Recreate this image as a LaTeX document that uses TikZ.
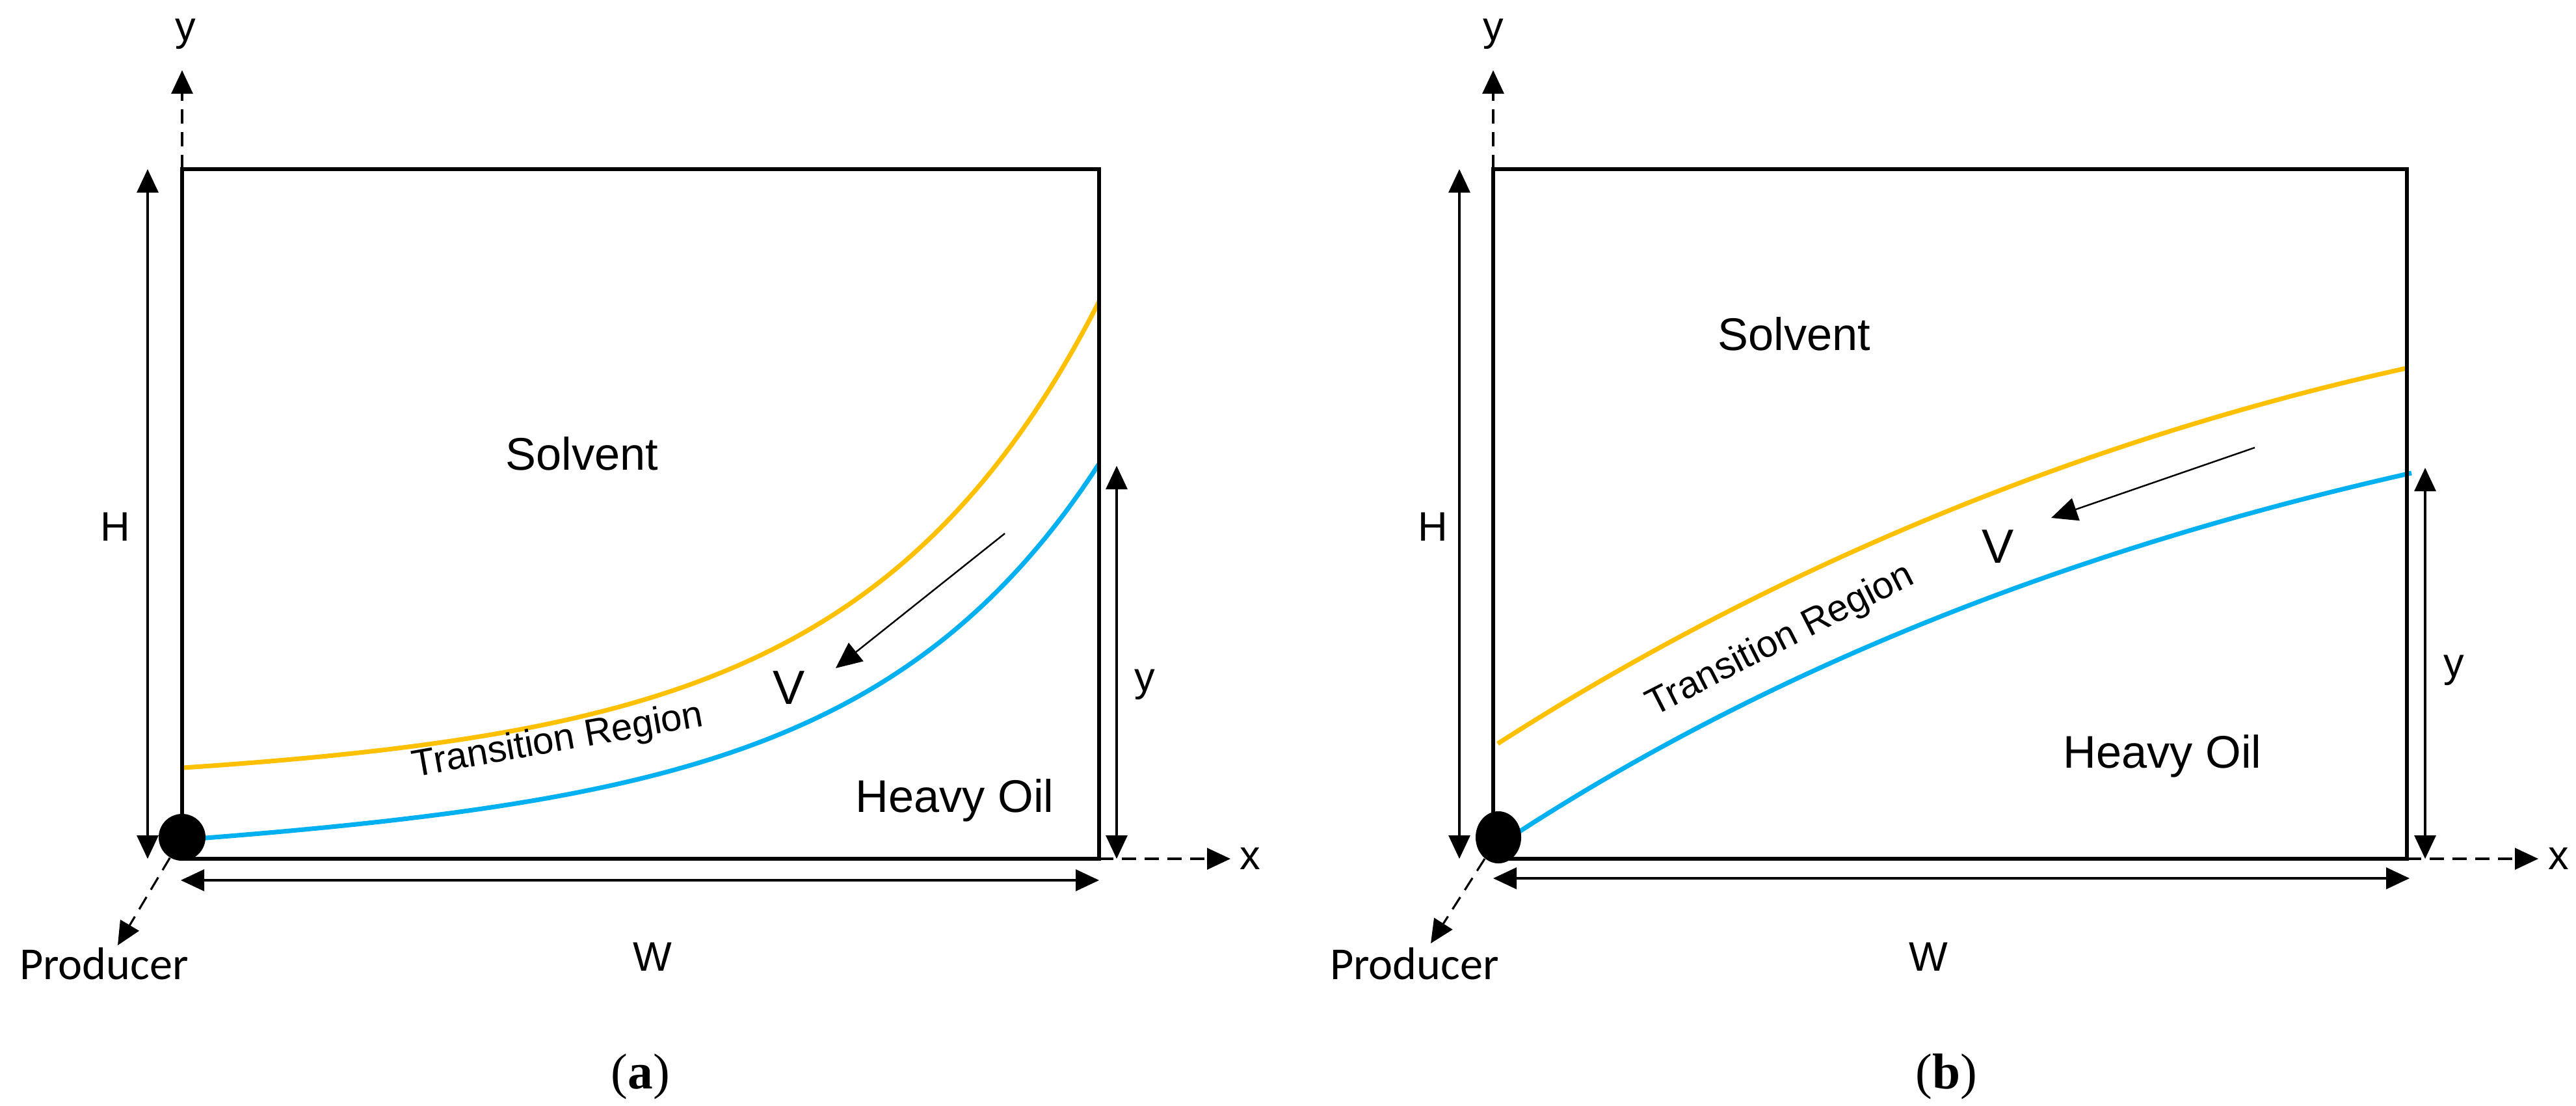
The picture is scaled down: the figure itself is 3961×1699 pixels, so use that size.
\documentclass[tikz,border=0pt]{standalone}
\usepackage{fontspec}
\setmainfont{Liberation Sans}
\newfontfamily\calfont{Carlito}
\newfontfamily\serfont{Liberation Serif}
\usetikzlibrary{arrows.meta,shapes.geometric}
\definecolor{solv}{HTML}{FFC000}
\definecolor{oilb}{HTML}{00B0F0}
\begin{document}
\begin{tikzpicture}[x=0.01cm,y=-0.01cm,
  frame/.style={line width=1.7pt},
  dimline/.style={line width=0.9pt,{Triangle[length=0.36cm,width=0.33cm]}-{Triangle[length=0.36cm,width=0.33cm]}},
  axisline/.style={line width=0.9pt,dash pattern=on 0.22cm off 0.13cm,-{Triangle[length=0.36cm,width=0.33cm]}},
  flowline/.style={line width=0.7pt,-{Triangle[length=0.4cm,width=0.36cm]}},
  solvline/.style={solv,line width=2pt},
  oilline/.style={oilb,line width=2pt},
  lab/.style={font=\fontsize{18pt}{20pt}\selectfont,inner sep=0pt,anchor=base},
  big/.style={font=\fontsize{20pt}{24pt}\selectfont,inner sep=0pt,anchor=base},
  vlab/.style={font=\fontsize{21pt}{24pt}\selectfont,inner sep=0pt,anchor=base},
  prod/.style={font=\calfont\fontsize{20pt}{24pt}\selectfont,inner sep=0pt,anchor=base},
  trans/.style={font=\fontsize{16.5pt}{18pt}\selectfont,inner sep=0pt,anchor=center},
  figcap/.style={font=\serfont\fontsize{22pt}{26pt}\selectfont,inner sep=0pt,anchor=center},
  well/.style={fill=black,inner sep=0pt}
]
\useasboundingbox (0,0) rectangle (3961,1699);

% ================= panel (a) =================
\coordinate (a1) at (280,260);
\coordinate (a2) at (1690,1320);
\coordinate (aYtip) at (280,108);
\coordinate (aXtip) at (1892,1320);
\coordinate (aHt) at (227,260);
\coordinate (aHb) at (227,1320);
\coordinate (aWl) at (278,1353);
\coordinate (aWr) at (1690,1353);
\coordinate (aYt) at (1717,716);
\coordinate (aYb) at (1717,1320);
\coordinate (aVs) at (1545,820);
\coordinate (aVe) at (1285,1027);
\coordinate (aPtip) at (181,1453);

\draw[solvline] plot[domain=0:1408,samples=120,smooth] ({282+\x},{1180-0.03*\x-13.2*(exp(0.0028*\x)-1)});
\draw[oilline] plot[domain=0:1400,samples=120,smooth] ({290+\x},{1290-0.051*\x-8.89*(exp(0.0029*\x)-1)});

\draw[frame] (a1) rectangle (a2);
\draw[axisline] (a1) -- (aYtip);
\draw[axisline] (a2) -- (aXtip);
\draw[dimline] (aHt) -- (aHb);
\draw[dimline] (aWl) -- (aWr);
\draw[dimline] (aYt) -- (aYb);
\draw[flowline] (aVs) -- (aVe);

\node[well,circle,minimum size=0.72cm] (awell) at (280,1287) {};
\draw[axisline] (awell) -- (aPtip);

\node[lab] (aylab) at (285,62) {y};
\node[lab] (aHlab) at (177,831) {H};
\node[lab] (aWlab) at (1003,1492) {W};
\node[lab] (ayrlab) at (1760,1062) {y};
\node[lab] (axlab) at (1922,1336) {x};
\node[prod] (aprod) at (160,1505) {Producer};
\node[big] (asolv) at (895,722) {Solvent};
\node[big] (aoil) at (1468,1248) {Heavy Oil};
\node[vlab] (aV) at (1213,1082) {V};
\node[trans,rotate=10] (atrans) at (858,1140) {Transition Region};
\node[figcap] (acap) at (985,1655) {(\textbf{a})};

% ================= panel (b) =================
\coordinate (b1) at (2296,260);
\coordinate (b2) at (3701,1320);
\coordinate (bYtip) at (2296,108);
\coordinate (bXtip) at (3903,1320);
\coordinate (bHt) at (2244,260);
\coordinate (bHb) at (2244,1320);
\coordinate (bWl) at (2296,1350);
\coordinate (bWr) at (3705,1350);
\coordinate (bYt) at (3729,719);
\coordinate (bYb) at (3729,1320);
\coordinate (bVs) at (3467,688);
\coordinate (bVe) at (3154,796);
\coordinate (bPtip) at (2200,1450);
\coordinate (bO0) at (2303,1143);
\coordinate (bO1) at (3700,566);
\coordinate (bB0) at (2315,1292);
\coordinate (bB1) at (3708,727);

\draw[solvline] (bO0) .. controls (2760,850) and (3250,665) .. (bO1);
\draw[oilline] (bB0) .. controls (2760,1000) and (3250,830) .. (bB1);

\draw[frame] (b1) rectangle (b2);
\draw[axisline] (b1) -- (bYtip);
\draw[axisline] (b2) -- (bXtip);
\draw[dimline] (bHt) -- (bHb);
\draw[dimline] (bWl) -- (bWr);
\draw[dimline] (bYt) -- (bYb);
\draw[flowline] (bVs) -- (bVe);

\node[well,ellipse,minimum width=0.7cm,minimum height=0.8cm] (bwell) at (2304,1287) {};
\draw[axisline] (bwell) -- (bPtip);

\node[lab] (bylab) at (2296,62) {y};
\node[lab] (bHlab) at (2203,831) {H};
\node[lab] (bWlab) at (2965,1492) {W};
\node[lab] (byrlab) at (3773,1040) {y};
\node[lab] (bxlab) at (3934,1336) {x};
\node[prod] (bprod) at (2175,1505) {Producer};
\node[big] (bsolv) at (2759,538) {Solvent};
\node[big] (boil) at (3325,1180) {Heavy Oil};
\node[vlab] (bV) at (3072,865) {V};
\node[trans,rotate=27] (btrans) at (2738,985) {Transition Region};
\node[figcap] (bcap) at (2993,1655) {(\textbf{b})};
\end{tikzpicture}
\end{document}
